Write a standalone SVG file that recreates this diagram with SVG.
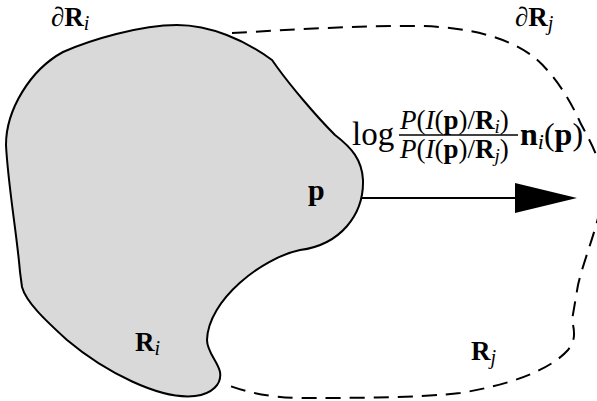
<svg xmlns="http://www.w3.org/2000/svg" width="597" height="401" viewBox="0 0 597 401">
<style>
.t{font-family:"Liberation Serif","Times New Roman",serif;fill:#000}
.b{font-weight:bold}
.it{font-style:italic}
.outline{fill:#d9d9d9;stroke:#000;stroke-width:2}
.dash{fill:none;stroke:#000;stroke-width:2;stroke-dasharray:15 9}
</style>
<rect width="597" height="401" fill="#fff"/>
<g id="region-i">
<path class="outline" d="M63,52 C90,40 140,25 177,25 C210,25 245,40 272,60 L277,67 C290,85 315,115 335,135 C352,148 362,160 363,180 C364,215 340,245 300,250 C262,258 208,300 207,340 C207,352 218,362 220,372 C222,384 212,394 195,396 C160,400 105,372 67,340 C45,320 26,302 22,287 L20,272 C17,235 8,185 6,145 C6,110 30,70 63,52 Z"/>
<text class="t b" x="308" y="200" font-size="30">p</text>
<text class="t" x="135" y="351" font-size="27"><tspan class="b">R</tspan><tspan class="it" font-size="20" dy="4">i</tspan></text>
<text class="t" x="51" y="26" font-size="27"><tspan class="it">∂</tspan><tspan class="b">R</tspan><tspan class="it" font-size="20" dy="4">i</tspan></text>
</g>
<g id="region-j">
<path class="dash" d="M232,33 C290,30 360,25 420,26 C470,27 510,38 535,58 C555,75 570,100 580,122 C588,138 605,165 603,190 C601,220 585,255 578,285 L572,320 C574,330 577,338 568,350 C550,370 510,385 460,393 C420,398 340,398 297,398 C270,397 250,393 230,386"/>
<text class="t" x="515" y="26" font-size="27"><tspan class="it">∂</tspan><tspan class="b">R</tspan><tspan class="it" font-size="20" dy="4">j</tspan></text>
<text class="t" x="471" y="360" font-size="27"><tspan class="b">R</tspan><tspan class="it" font-size="20" dy="4">j</tspan></text>
</g>
<g id="connectors">
<line x1="362" y1="198" x2="517" y2="198" stroke="#000" stroke-width="2"/>
<polygon points="515,183 577,198 515,213" fill="#000"/>
</g>
<g id="label">
<text class="t" x="352" y="145" font-size="33">log</text>
<text class="t" x="400" y="129" font-size="27"><tspan class="it">P</tspan>(<tspan class="it">I</tspan>(<tspan class="b">p</tspan>)/<tspan class="b">R</tspan><tspan class="it" font-size="19" dy="4">i</tspan><tspan dy="-4">)</tspan></text>
<line x1="399" y1="135" x2="518" y2="135" stroke="#000" stroke-width="1.3"/>
<text class="t" x="400" y="158" font-size="27"><tspan class="it">P</tspan>(<tspan class="it">I</tspan>(<tspan class="b">p</tspan>)/<tspan class="b">R</tspan><tspan class="it" font-size="19" dy="4">j</tspan><tspan dy="-4">)</tspan></text>
<text class="t" x="520" y="145" font-size="32"><tspan class="b">n</tspan><tspan class="it" font-size="22" dy="4">i</tspan><tspan dy="-4">(</tspan><tspan class="b">p</tspan>)</text>
</g>
</svg>
